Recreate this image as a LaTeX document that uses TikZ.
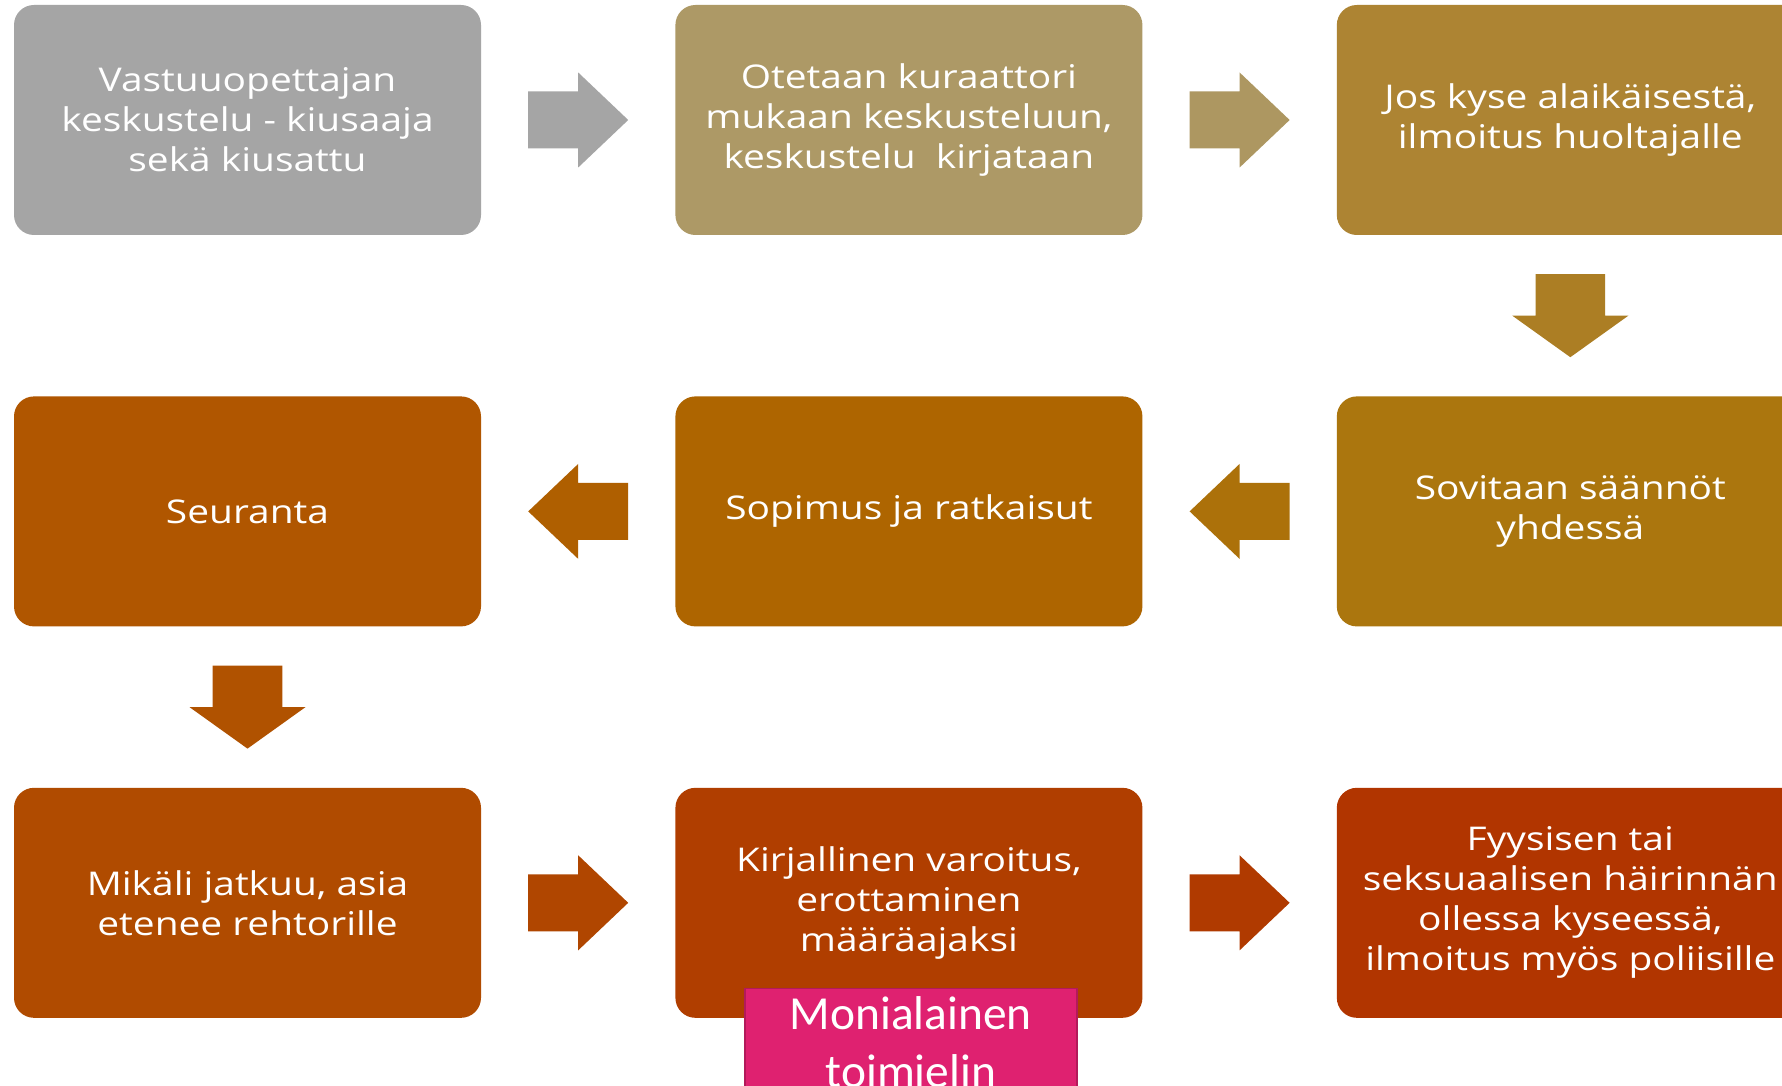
\documentclass[tikz,border=0pt]{standalone}
\usepackage{fontspec}
\setmainfont{Open Sans}[FakeStretch=1.19]
\newfontfamily\calibri{Carlito}
\usetikzlibrary{positioning,calc}
\definecolor{tone1}{HTML}{A5A5A5}
\definecolor{tone2}{HTML}{AD9966}
\definecolor{tone3}{HTML}{AD8433}
\definecolor{tone4}{HTML}{AB760E}
\definecolor{tone5}{HTML}{AE6500}
\definecolor{tone6}{HTML}{B05600}
\definecolor{tone7}{HTML}{B04B00}
\definecolor{tone8}{HTML}{B03E00}
\definecolor{tone9}{HTML}{B13500}
\definecolor{boardpink}{HTML}{DF2170}
\definecolor{boardedge}{HTML}{B21A5A}
\newcommand{\flowarrow}[5]{\fill[#1,shift={#2},rotate=#3,xscale=#4,yscale=#5]
  (-0.5,-0.3) -- (0,-0.3) -- (0,-0.5) -- (0.5,0) -- (0,0.5) -- (0,0.3) -- (-0.5,0.3) -- cycle;}
\tikzset{
  stage/.style={rounded corners=0.2cm, minimum width=4.67cm, minimum height=2.3cm,
    inner sep=0pt, align=center, text=white, font=\fontsize{9.3}{11.4}\selectfont},
  board/.style={fill=boardpink, draw=boardedge, line width=0.4pt, minimum width=3.32cm,
    inner xsep=2pt, inner ysep=2.5pt, align=center, text=white,
    font=\calibri\fontsize{13.5}{16.5}\selectfont}
}
\begin{document}
\begin{tikzpicture}
\clip (0,0) rectangle (17.82,-10.86);
\fill[white] (0,0) rectangle (17.82,-10.86);
\node[stage,fill=tone1] (talk) at (2.475,-1.2) {Vastuuopettajan\\keskustelu - kiusaaja\\sekä kiusattu};
\node[stage,fill=tone2,right=1.93cm of talk] (counsel) {Otetaan kuraattori\\mukaan keskusteluun,\\keskustelu~ kirjataan};
\node[stage,fill=tone3,right=1.93cm of counsel] (guardian) {Jos kyse alaikäisestä,\\ilmoitus huoltajalle};
\node[stage,fill=tone4,below=1.6cm of guardian] (rules) {Sovitaan säännöt\\yhdessä};
\node[stage,fill=tone5,left=1.93cm of rules] (deal) {Sopimus ja ratkaisut};
\node[stage,fill=tone6,left=1.93cm of deal] (follow) {Seuranta};
\node[stage,fill=tone7,below=1.6cm of follow] (principal) {Mikäli jatkuu, asia\\etenee rehtorille};
\node[stage,fill=tone8,right=1.93cm of principal] (warning) {Kirjallinen varoitus,\\erottaminen\\määräajaksi};
\node[stage,fill=tone9,right=1.93cm of warning] (police) {Fyysisen tai\\seksuaalisen häirinnän\\ollessa kyseessä,\\ilmoitus myös poliisille};
\node[board,anchor=north] (body) at ($(warning.south)+(0.02,0.31)$) {Monialainen\\toimielin};
\flowarrow{tone1}{($(talk.east)!0.5!(counsel.west)$)}{0}{1}{0.95}
\flowarrow{tone2!90!tone3}{($(counsel.east)!0.5!(guardian.west)$)}{0}{1}{0.95}
\flowarrow{tone3!60!tone4}{($(guardian.south)!0.5!(rules.north)$)}{-90}{0.83}{1.16}
\flowarrow{tone4!70!tone5}{($(rules.west)!0.5!(deal.east)$)}{180}{1}{0.95}
\flowarrow{tone5!60!tone6}{($(deal.west)!0.5!(follow.east)$)}{180}{1}{0.95}
\flowarrow{tone6!60!tone7}{($(follow.south)!0.5!(principal.north)$)}{-90}{0.83}{1.16}
\flowarrow{tone7!60!tone8}{($(principal.east)!0.5!(warning.west)$)}{0}{1}{0.95}
\flowarrow{tone8!60!tone9}{($(warning.east)!0.5!(police.west)$)}{0}{1}{0.95}
\end{tikzpicture}
\end{document}
